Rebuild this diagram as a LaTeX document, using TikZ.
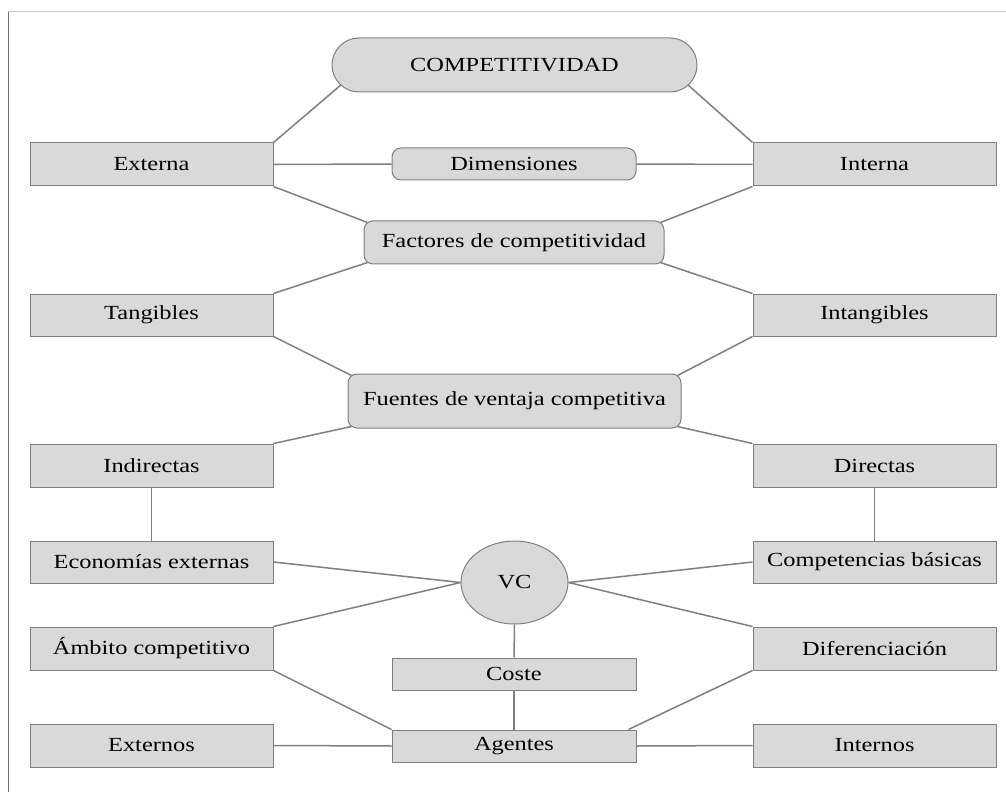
\documentclass[tikz,border=0pt]{standalone}
\usepackage{fontspec}
\setmainfont{Liberation Serif}[FakeStretch=1.22]
\usetikzlibrary{calc,backgrounds,shapes.geometric}
\definecolor{boxfill}{HTML}{D9D9D9}
\definecolor{edge}{HTML}{7F7F7F}
\tikzset{
  box/.style={draw=edge, fill=boxfill, line width=1pt, inner sep=0pt,
    minimum width=243pt, minimum height=43pt, font=\fontsize{20}{24}\selectfont},
  roundbox/.style={box, rounded corners=9pt},
  link/.style={draw=edge, line width=1.5pt}
}
\begin{document}
\begin{tikzpicture}[x=1pt,y=-1pt]
\useasboundingbox (0,0) rectangle (1006,794);
% page frame
\draw[black!22, line width=1pt] (8,12) -- (1006,12);
\draw[black!55, line width=1pt] (8,12) -- (8,792);

\node[box, rounded corners=27pt, minimum width=365pt, minimum height=54pt] (comp) at (514.5,65) {COMPETITIVIDAD};
\node[box] (externa) at (151.5,164.5) {Externa};
\node[box] (interna) at (874.5,164.5) {Interna};
\node[roundbox, minimum width=244pt, minimum height=32pt] (dim) at (514,164) {Dimensiones};
\node[roundbox, minimum width=300pt] (factores) at (514,242.5) {Factores de competitividad};
\node[box, minimum height=42pt] (tangibles) at (151.5,315) {Tangibles};
\node[box, minimum height=42pt] (intangibles) at (874.5,315) {Intangibles};
\node[roundbox, minimum width=333pt, minimum height=54pt] (fuentes) at (514.5,401) {Fuentes de ventaja competitiva};
\node[box] (indirectas) at (151.5,465.5) {Indirectas};
\node[box] (directas) at (874.5,465.5) {Directas};
\node[box, minimum height=42pt] (economias) at (151.5,562) {Economías externas};
\node[box, minimum height=42pt] (competencias) at (874.5,562) {Competencias básicas};
\node[box, ellipse, minimum width=107pt, minimum height=83pt] (vc) at (514.5,582.5) {VC};
\node[box] (ambito) at (151.5,648.5) {Ámbito competitivo};
\node[box] (diferenciacion) at (874.5,648.5) {Diferenciación};
\node[box, minimum width=244pt, minimum height=32pt] (coste) at (514,674) {Coste};
\node[box] (externos) at (151.5,745.5) {Externos};
\node[box, minimum width=244pt, minimum height=32pt] (agentes) at (514,746) {Agentes};
\node[box] (internos) at (874.5,745.5) {Internos};

\begin{scope}[on background layer]
  \draw[link] (externa.north east) -- ($(comp.south west)+(10,-8)$);
  \draw[link] (interna.north west) -- ($(comp.south east)+(-10,-8)$);
  \draw[link] (externa.east) -- (dim.west);
  \draw[link] (dim.east) -- (interna.west);
  \draw[link] (externa.south east) -- ($(factores.north west)+(4,2)$);
  \draw[link] (interna.south west) -- ($(factores.north east)+(-4,2)$);
  \draw[link] ($(factores.south west)+(4,-2)$) -- (tangibles.north east);
  \draw[link] ($(factores.south east)+(-4,-2)$) -- (intangibles.north west);
  \draw[link] (tangibles.south east) -- ($(fuentes.north west)+(4,2)$);
  \draw[link] (intangibles.south west) -- ($(fuentes.north east)+(-4,2)$);
  \draw[link] ($(fuentes.south west)+(4,-2)$) -- (indirectas.north east);
  \draw[link] ($(fuentes.south east)+(-4,-2)$) -- (directas.north west);
  \draw[link] (indirectas.south) -- (economias.north);
  \draw[link] (directas.south) -- (competencias.north);
  \draw[link] (economias.east) -- (vc.west);
  \draw[link] (ambito.north east) -- (vc.west);
  \draw[link] (vc.east) -- (competencias.west);
  \draw[link] (vc.east) -- (diferenciacion.north west);
  \draw[link] (vc.south) -- (coste.north);
  \draw[link] (coste.south) -- (agentes.north);
  \draw[link] (ambito.south east) -- (agentes.north west);
  \draw[link] (diferenciacion.south west) -- ($(agentes.north east)+(-8,0)$);
  \draw[link] (externos.east) -- (agentes.west);
  \draw[link] (agentes.east) -- (internos.west);
\end{scope}
\end{tikzpicture}
\end{document}
